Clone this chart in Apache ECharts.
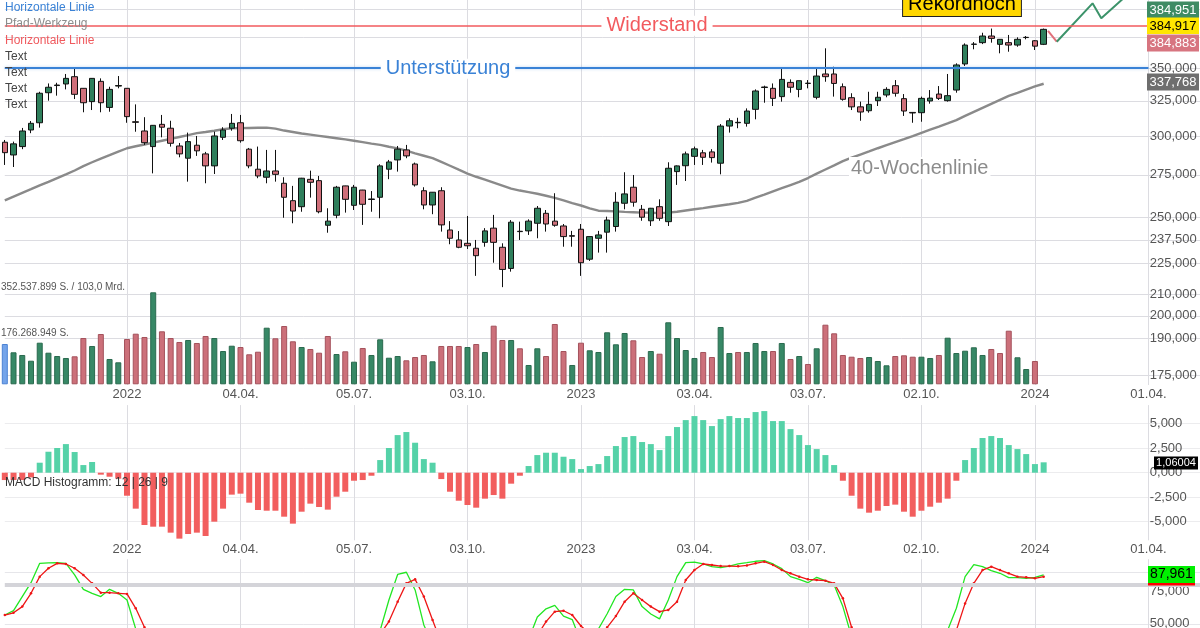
<!DOCTYPE html>
<html><head><meta charset="utf-8">
<script src="https://cdn.jsdelivr.net/npm/echarts@6/dist/echarts.min.js"></script>
<style>html,body{margin:0;padding:0;background:#fff}#c{width:1200px;height:628px}</style>
</head><body><div id="c"></div>
<script>
// ---- data (weekly candles: [open, close, low, high]) ----
const ohlc = [
[296.0,289.1,281.2,297.5],[287.6,294.9,279.9,296.4],[293.1,303.6,291.4,305.7],[304.3,308.9,302.1,310.5],[309.3,330.6,305.9,331.7],
[331.0,335.1,325.1,338.0],[336.4,336.8,328.8,338.5],[337.6,341.9,333.5,345.3],[343.2,329.8,326.3,349.2],[334.3,323.6,316.7,334.5],
[324.4,341.9,318.3,342.1],[339.6,323.6,316.7,341.9],[320.2,333.5,317.1,335.5],[336.0,336.4,334.3,343.7],[334.3,313.6,309.3,334.5],
[310.0,309.6,303.1,322.4],[303.6,295.7,294.2,313.2],[293.1,307.5,275.9,307.7],[308.2,306.2,299.3,314.8],[305.5,295.3,293.1,310.7],
[293.5,288.3,286.1,295.5],[285.5,296.4,270.8,302.5],[294.0,290.3,287.0,300.2],[288.3,280.6,269.8,289.6],[280.6,300.2,275.5,303.1],
[299.3,304.3,297.5,306.2],[305.5,308.9,303.8,315.5],[309.3,297.0,295.7,314.8],[291.4,280.6,279.1,292.2],[278.5,274.3,272.9,293.1],
[273.5,277.4,269.8,290.9],[277.4,275.3,270.8,290.9],[269.8,261.4,249.6,273.5],[259.4,253.4,246.5,268.2],[255.9,272.9,253.0,273.1],
[272.2,270.4,261.2,277.6],[271.4,253.0,252.1,274.3],[245.4,247.7,241.3,255.0],[251.0,267.4,249.3,268.2],[268.2,260.2,252.5,268.3],
[256.7,267.4,254.0,268.8],[265.7,257.3,245.6,265.8],[260.4,260.1,253.0,265.1],[261.4,280.6,249.3,281.6],[278.5,283.1,272.3,284.4],
[284.4,291.4,277.0,293.5],[290.9,287.0,285.5,294.2],[281.8,268.8,267.8,282.7],[265.3,256.9,254.4,267.4],[256.9,264.4,251.6,264.5],
[265.3,245.6,241.9,267.4],[242.8,238.3,235.1,247.7],[237.4,233.5,233.0,242.2],[235.6,234.3,232.6,250.6],[233.0,229.1,218.9,237.4],
[236.1,242.3,233.8,243.8],[243.8,236.1,225.5,251.2],[233.5,222.1,213.4,235.6],[222.6,247.1,221.0,248.3],[241.9,242.1,237.4,247.4],
[242.3,247.7,240.1,248.7],[246.5,255.0,238.3,256.3],[252.1,246.1,241.9,254.0],[247.7,245.4,244.6,263.8],[245.0,239.2,233.8,246.1],
[239.7,239.4,233.8,242.3],[243.2,225.5,218.9,246.1],[227.3,239.2,226.4,239.3],[238.3,240.1,230.7,242.3],[241.6,248.3,230.7,250.2],
[244.7,258.5,241.9,264.4],[257.9,263.4,254.4,276.6],[267.4,258.5,255.9,274.9],[254.4,249.9,247.9,256.9],[247.9,255.0,245.0,255.2],
[255.9,249.3,247.9,260.2],[247.4,279.1,245.0,282.9],[277.0,280.6,268.8,280.9],[280.7,288.3,271.2,289.8],[286.7,291.6,281.2,293.1],
[289.0,286.1,281.2,290.9],[289.6,285.9,282.7,291.4],[282.3,307.0,275.3,308.4],[307.0,310.7,302.5,312.4],[309.3,309.6,305.5,312.8],
[308.9,317.6,306.6,319.5],[318.8,332.3,311.7,333.5],[334.9,335.3,323.6,336.3],[334.3,326.8,321.2,338.0],[328.1,341.1,324.4,349.8],
[338.8,335.1,331.0,341.1],[333.5,340.1,327.6,340.2],[338.0,338.2,334.3,340.6],[327.6,343.7,326.1,349.8],[345.3,343.2,339.3,365.9],
[345.3,338.0,328.1,351.0],[335.5,326.1,325.1,338.0],[327.3,320.6,318.3,330.6],[320.6,316.9,310.7,324.4],[317.8,322.4,316.4,331.7],
[325.1,327.6,321.2,331.7],[329.3,333.5,327.6,335.1],[336.3,330.6,328.1,340.6],[326.6,317.6,314.1,330.0],[316.6,316.2,309.3,316.9],
[316.4,326.8,310.0,328.1],[324.9,327.0,322.9,333.0],[330.0,326.8,325.6,336.0],[325.1,328.8,324.4,345.3],[333.0,352.4,331.0,353.7],
[353.2,368.6,351.6,370.0],[369.2,369.4,365.1,371.1],[370.6,376.2,369.4,379.0],[376.2,374.2,370.6,382.6],[369.2,373.4,361.8,373.6],
[370.6,368.6,363.1,377.1],[368.6,373.4,367.2,375.1],[374.9,375.1,373.4,376.2],[372.2,367.7,364.5,372.8],[369.2,381.9,368.6,382.6]
];
const ma40 = [
259.6,261.8,264.0,266.2,268.5,270.7,273.0,275.3,277.7,280.4,
282.9,285.3,287.5,289.8,292.0,293.3,294.5,295.7,297.0,298.2,
299.5,300.8,302.1,302.9,303.8,304.8,305.5,305.6,305.7,305.8,
305.9,305.2,303.9,302.9,301.9,301.1,300.3,299.5,298.7,297.9,
297.0,296.1,295.1,294.2,293.0,291.9,290.4,288.7,287.1,285.5,
283.1,280.7,278.2,275.8,273.8,272.0,270.2,268.4,266.6,265.4,
264.5,263.5,262.3,261.0,259.6,258.0,256.6,254.9,253.6,253.4,
253.2,252.9,252.7,252.5,252.4,252.2,252.5,253.0,253.7,254.4,
255.1,255.9,256.6,257.3,258.1,259.3,261.2,263.0,264.9,266.8,
268.7,270.6,273.0,275.7,278.3,280.9,283.6,285.9,287.9,289.9,
292.0,294.0,296.0,298.0,300.1,302.3,304.5,306.6,308.8,311.1,
314.1,317.0,319.9,322.8,325.7,328.6,330.9,333.3,335.7,337.768];
// volume in millions of shares
const volume = [
154.4,122.6,112.3,90.4,159.4,121.1,108.4,100.8,107.3,177.4,
146.8,192.7,97.0,84.3,173.6,193.9,181.3,352.537899,203.1,177.4,
162.1,169.8,158.3,185.1,177.4,127.6,147.9,142.9,115.0,124.9,
216.9,176.3,223.4,164.8,142.9,135.3,121.1,185.1,116.1,126.5,
86.6,139.1,112.3,172.4,101.9,108.4,92.0,104.6,112.3,88.1,
146.8,146.8,146.8,142.9,154.4,123.8,224.6,169.8,169.8,138.0,
74.0,138.0,108.4,231.1,127.6,74.0,159.4,130.3,123.8,199.3,
153.3,196.6,168.6,104.6,127.6,117.3,237.6,177.4,131.4,100.8,
123.8,104.6,219.6,119.9,123.8,123.8,158.3,127.6,127.6,158.3,
97.0,108.4,77.8,138.0,228.4,195.4,112.3,105.8,100.8,104.6,
89.3,72.8,108.4,111.1,105.8,105.8,100.8,112.3,178.6,119.9,
128.8,141.8,112.3,135.3,119.9,205.4,103.5,58.6,89.3];
const macdHist = [
-0.75,-0.75,-0.75,-0.48,1.02,2.14,2.52,2.92,2.11,0.78,
1.09,-0.20,-0.41,-0.61,-2.35,-3.67,-5.34,-5.51,-5.51,-6.12,
-6.73,-6.26,-6.12,-6.46,-5.00,-3.67,-2.24,-2.14,-3.06,-3.81,
-3.88,-3.88,-4.49,-5.20,-3.98,-3.16,-3.50,-3.77,-2.45,-1.94,
-0.82,-0.75,-0.31,1.29,2.52,3.84,4.15,3.06,1.39,1.02,
-0.65,-1.94,-2.86,-3.30,-3.57,-2.65,-2.28,-2.65,-1.12,-0.31,
0.68,1.80,2.04,2.04,1.63,1.39,0.37,0.68,0.88,1.70,
2.72,3.64,3.74,3.13,2.92,2.31,3.74,4.66,5.37,5.78,
5.37,4.76,5.47,5.78,5.58,5.58,6.19,6.29,5.27,5.27,
4.45,3.84,2.82,2.41,1.80,0.78,-0.82,-2.35,-3.67,-4.08,
-3.88,-3.40,-3.26,-3.98,-4.49,-3.88,-3.47,-3.06,-2.65,-0.82,
1.29,2.52,3.54,3.74,3.54,2.82,2.41,1.90,0.88,1.06004];
const stochK = [
56.8,60.2,71.1,81.8,96.8,97.1,97.3,96.8,87.8,76.7,
73.6,71.1,76.7,73.6,68.4,46,30,15,12,10,
8,15,12,10,20,25,35,30,20,12,
15,14,10,8,18,20,15,22,30,28,
35,38,42,45,68.4,88.2,89.9,76.2,49.1,34,
22,12,8,6,5,12,10,8,20,30,
38,55.2,61.6,64.2,55.9,53.3,36,38,46,57.8,
71.1,76.7,76.2,63.3,57.6,53.8,68.4,86.5,97.3,97.8,
96.3,94.2,93.4,94.7,96.3,97.3,98.4,98.9,96.3,92.7,
86.5,84.4,81.8,86.0,83.4,80.0,63.3,40,25,20,
22,28,25,15,10,20,25,28,45,62.0,
86.5,95.8,94.2,91.2,89.1,85.7,85.7,85.2,86.0,87.961];
const stochD = [
56.8,58.5,63.3,73.6,86.5,93,96.8,96.3,93,87.8,
81.3,74.1,74.1,73.6,73.1,62,47.3,30,19,12,
10,11,12,12,14,18,27,30,28,21,
16,14,13,11,12,15,18,19,22,27,
31,34,38,42,51.7,67.1,81.3,84.4,71.1,53,
35,23,14,9,6,8,9,10,13,19,
29,41,51.7,59.4,60.1,56.8,48.3,42.4,40,47.3,
56.0,67.1,73.6,68.4,63.3,59.4,60.7,67.1,83.9,91.6,
96.3,95.5,94.7,94.7,94.5,95.2,96.8,98.1,95.5,91.6,
89.1,86.5,84.4,83.9,83.4,81.3,69.7,47.3,33,28,
22,23,25,23,17,15,18,24,33,45,
65.8,81.3,91.6,94.2,91.6,89.1,86.5,86.0,85.2,86.5];
const tickIndex = [14,27,40,53,66,79,92,105,118,131];
const tickLabels = ['2022','04.04.','05.07.','03.10.','2023','03.04.','03.07.','02.10.','2024','01.04.'];
const priceLabelValues = [175,190,200,210,225,237.5,250,275,300,325,350];
const priceGridValues = [175,190,200,210,225,237.5,250,275,300,325,350,375,400];
const macdTicks = [-5,-2.5,0,2.5,5];
const stochLabelValues = [75,50];
const stochGridValues = [90,50];
const resistance = 384.917;
const support = 350.2;
const stochLevel = 80;
const volumeMax = 352.537899;
const volumeLabelValues = [176.2689495, 352.537899];
const volumeLabels = ['176.268.949 S.', '352.537.899 S. / 103,0 Mrd.'];
const pathRed = [[119.5,380.5],[120.5,371.4]];
const pathGreen = [[120.5,371.4],[124.6,405.0],[125.6,391.6],[128.6,413.0]];
const quoteTags = [384.951, 384.917, 384.883];

// ---- helpers ----
const NCAT = 138;
const LINE_END = 131;
const cats = [];
const t0 = Date.UTC(2021, 8, 27);
for (let i = 0; i < NCAT; i++) cats.push(new Date(t0 + i * 7 * 864e5).toISOString().slice(0, 10));
const tickMap = {};
tickIndex.forEach((k, j) => { tickMap[k] = tickLabels[j]; });
const isTick = (idx) => tickMap[idx] !== undefined;
const fmt = (v, d) => v.toFixed(d === undefined ? 3 : d).replace('.', ',');
const FONT = '"Liberation Sans", Arial, sans-serif';
const GRIDC = '#dcdce1';

const UP = '#2f7f5c', DOWN = '#cf6f7a';
const volData = volume.map((v, i) => {
  let c, b;
  if (i === 0) { c = '#74a4ea'; b = '#4c82d4'; }
  else if (ohlc[i][1] >= ohlc[i - 1][1]) { c = '#378866'; b = '#2a6a4e'; }
  else { c = '#cc707a'; b = '#a4525c'; }
  return { value: v, itemStyle: { color: c, borderColor: b, borderWidth: 1 } };
});
const macdData = macdHist.map(v => ({ value: v, itemStyle: { color: v >= 0 ? '#55d2a8' : '#f25e5e' } }));

const gridBase = { left: 4.8, width: 1196, outerBoundsMode: 'none', containLabel: false };
const catAxis = (gi, showLabel) => ({
  gridIndex: gi, type: 'category', data: cats, boundaryGap: false,
  axisLine: { show: false }, axisTick: { show: false },
  axisLabel: { show: showLabel, interval: (i) => isTick(i), formatter: (v, i) => tickMap[i] || '',
    color: '#555', fontSize: 13, margin: 3, fontFamily: FONT },
  splitLine: { show: gi !== 1, interval: (i) => isTick(i), lineStyle: { color: GRIDC, width: 1 } }
});
const hLine = (v, style) => [{ xAxis: 0, yAxis: v, lineStyle: style }, { xAxis: LINE_END, yAxis: v }];

const chart = echarts.init(document.getElementById('c'), null, { renderer: 'canvas' });
const option = {
  animation: false,
  backgroundColor: '#fff',
  textStyle: { fontFamily: FONT },
  grid: [
    Object.assign({ top: 0, height: 385 }, gridBase),
    Object.assign({ top: 292.3, height: 92 }, gridBase),
    Object.assign({ top: 405.1, height: 135.2 }, gridBase),
    Object.assign({ top: 559.2, height: 129.2 }, gridBase)
  ],
  xAxis: [
    catAxis(0, true), catAxis(1, false), catAxis(2, true), catAxis(3, false),
    { gridIndex: 0, type: 'value', min: 0, max: NCAT - 1, show: false }
  ],
  yAxis: [
    { gridIndex: 0, type: 'log', min: 171.1, max: 408.07, position: 'right',
      axisLine: { show: false }, axisTick: { show: false, customValues: priceGridValues },
      axisLabel: { inside: true, align: 'left', margin: 51, customValues: priceLabelValues,
        formatter: (v) => fmt(v), color: '#555', fontSize: 13 },
      splitLine: { show: true, lineStyle: { color: GRIDC, width: 1 } } },
    { gridIndex: 1, type: 'value', min: 0, max: volumeMax, position: 'left',
      axisLine: { show: false }, axisTick: { show: false, customValues: volumeLabelValues },
      axisLabel: { inside: true, align: 'left', verticalAlign: 'bottom', margin: -3.8, customValues: volumeLabelValues,
        formatter: (v) => v > 300 ? volumeLabels[1] : volumeLabels[0], color: '#555', fontSize: 10 },
      splitLine: { show: false } },
    { gridIndex: 2, type: 'value', min: -6.9, max: 6.9, position: 'right',
      axisLine: { show: false }, axisTick: { show: false, customValues: macdTicks },
      axisLabel: { inside: true, align: 'left', margin: 51, customValues: macdTicks,
        formatter: (v) => fmt(v), color: '#555', fontSize: 13 },
      splitLine: { show: true, lineStyle: { color: '#ececee', width: 1 } } },
    { gridIndex: 3, type: 'value', min: 0, max: 100, position: 'right',
      axisLine: { show: false }, axisTick: { show: false, customValues: stochGridValues },
      axisLabel: { inside: true, align: 'left', margin: 51, customValues: stochLabelValues,
        formatter: (v) => fmt(v), color: '#555', fontSize: 13 },
      splitLine: { show: true, lineStyle: { color: '#e6e6ea', width: 1 } } }
  ],
  series: [
    { type: 'candlestick', xAxisIndex: 0, yAxisIndex: 0, data: ohlc, barWidth: 6, clip: false,
      itemStyle: { color: UP, color0: DOWN, borderColor: '#111', borderColor0: '#111', borderWidth: 1 },
      markLine: { silent: true, symbol: 'none', label: { show: false },
        data: [
          hLine(resistance, { color: '#f25a5e', width: 1.6, type: 'solid' }),
          hLine(support, { color: '#3a82d6', width: 2, type: 'solid', shadowColor: 'rgba(58,130,214,0.35)', shadowBlur: 3 })
        ] } },
    { type: 'line', xAxisIndex: 0, yAxisIndex: 0, data: ma40, showSymbol: false, z: 1,
      lineStyle: { color: '#8a8a8a', width: 2.4 } },
    { type: 'bar', xAxisIndex: 1, yAxisIndex: 1, data: volData, barWidth: 6, clip: false },
    { type: 'bar', xAxisIndex: 2, yAxisIndex: 2, data: macdData, barWidth: 6, clip: false },
    { type: 'line', xAxisIndex: 3, yAxisIndex: 3, data: stochK, showSymbol: false,
      lineStyle: { color: '#22e622', width: 1.3 },
      markLine: { silent: true, symbol: 'none', label: { show: false },
        data: [{ yAxis: stochLevel, lineStyle: { color: '#d4d4d9', width: 4, type: 'solid' } }] } },
    { type: 'line', xAxisIndex: 3, yAxisIndex: 3, data: stochD, showSymbol: true, symbol: 'circle', symbolSize: 2.5,
      itemStyle: { color: '#ee1515' }, lineStyle: { color: '#ee1515', width: 1.3 } },
    { type: 'line', xAxisIndex: 4, yAxisIndex: 0, data: pathRed, showSymbol: false,
      lineStyle: { color: '#e0707a', width: 2 } },
    { type: 'line', xAxisIndex: 4, yAxisIndex: 0, data: pathGreen, showSymbol: false,
      lineStyle: { color: '#3c936a', width: 2 } }
  ]
};
chart.setOption(option);

// ---- annotations ----
const yRes = chart.convertToPixel({ yAxisIndex: 0 }, resistance);
const ySup = chart.convertToPixel({ yAxisIndex: 0 }, support);
const txt = (text, x, y, o) => ({ type: 'text', x: x, y: y, z: 100,
  style: Object.assign({ text: text, fill: '#444', font: '12px ' + FONT, align: 'left', verticalAlign: 'middle',
    textAlign: 'left', textVerticalAlign: 'middle' }, o || {}) });
const rect = (x, y, w, h, fill) => ({ type: 'rect', z: 99, shape: { x: x, y: y, width: w, height: h }, style: { fill: fill } });
const ctr = { align: 'center', textAlign: 'center' };
const graphics = [
  txt('Horizontale Linie', 5, 8, { fill: '#3a82d6' }),
  txt('Pfad-Werkzeug', 5, 24, { fill: '#8c8c8c' }),
  txt('Horizontale Linie', 5, 40.5, { fill: '#f05a5e' }),
  txt('Text', 5, 56.5), txt('Text', 5, 72.5), txt('Text', 5, 88.5), txt('Text', 5, 104.5),
  txt('Widerstand', 657, yRes, Object.assign({ fill: '#f25a5e', font: '20px ' + FONT, backgroundColor: '#fff', padding: [0, 5] }, ctr)),
  txt('Unterstützung', 448, ySup + 1, Object.assign({ fill: '#3a82d6', font: '20px ' + FONT, backgroundColor: '#fff', padding: [0, 5] }, ctr)),
  txt('40-Wochenlinie', 849, 168, { fill: '#8c8c8c', font: '20px ' + FONT, backgroundColor: '#fff', padding: [1, 2] }),
  txt('Rekordhoch', 962, 4, Object.assign({ fill: '#000', font: '20px ' + FONT, backgroundColor: '#ffd700',
    borderColor: '#222', borderWidth: 1, padding: [2, 5] }, ctr)),
  rect(1147, 1.5, 52, 16.5, '#3f8b64'),
  txt(fmt(quoteTags[0]), 1173, 10, Object.assign({ fill: '#fff', font: '13px ' + FONT }, ctr)),
  rect(1147, 17.5, 52, 16.5, '#ffe600'),
  txt(fmt(quoteTags[1]), 1173, 26, Object.assign({ fill: '#000', font: '13px ' + FONT }, ctr)),
  rect(1147, 34.5, 52, 17, '#d77580'),
  txt(fmt(quoteTags[2]), 1173, 43, Object.assign({ fill: '#fff', font: '13px ' + FONT }, ctr)),
  rect(1147, 73.5, 52, 17, '#6e6e6e'),
  txt(fmt(ma40[ma40.length - 1]), 1173, 82, Object.assign({ fill: '#fff', font: '13px ' + FONT }, ctr)),
  txt('MACD Histogramm: 12 | 26 | 9', 5, 483, { fill: '#333', font: '12px ' + FONT }),
  rect(1154, 456.5, 44, 13, '#000'),
  txt(fmt(macdHist[macdHist.length - 1], 5), 1176, 463, Object.assign({ fill: '#fff', font: '11px ' + FONT }, ctr)),
  rect(1148, 566, 47, 17, '#00f000'),
  rect(1148, 583, 47, 2.5, '#ff0000'),
  txt(fmt(stochK[stochK.length - 1]), 1171.5, 574.5, Object.assign({ fill: '#000', font: '14px ' + FONT }, ctr))
];
chart.setOption({ graphic: graphics });
</script>
</body></html>
